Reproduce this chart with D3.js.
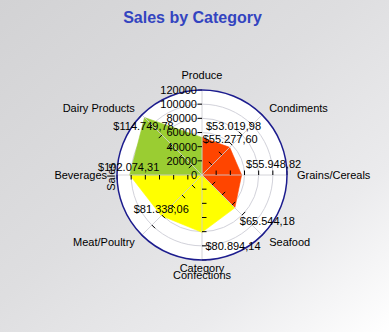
<!DOCTYPE html>
<html>
<head>
<meta charset="utf-8">
<script src="https://cdn.jsdelivr.net/npm/d3@7"></script>
<style>
html,body{margin:0;padding:0;overflow:hidden;}
svg{display:block;}
text{font-family:"Liberation Sans",Arial,sans-serif;}
</style>
</head>
<body>
<svg id="chart" width="389" height="332"></svg>
<script>
// ---- data ----
const categories = ["Produce","Condiments","Grains/Cereals","Seafood","Confections","Meat/Poultry","Beverages","Dairy Products"];
const sales = [53019.98, 55277.60, 55948.82, 65544.18, 80894.14, 81338.06, 102074.31, 114749.78];
const sectorColors = ["#FF4500","#FF4500","#FF4500","#FFFF00","#FFFF00","#FFFF00","#9ACD32","#9ACD32"];
const yTicks = [0, 20000, 40000, 60000, 80000, 100000, 120000];
const title = "Sales by Category";
const xTitle = "Category";
const yTitle = "Sales";

// ---- layout (styling, not data) ----
const W = 389, H = 332;
const cx = 202, cy = 175, R = 85;
const labelOffsets = [[31.5,-11.5],[0.5,-8.5],[32,-11],[32.5,13.5],[31,13.5],[0,-7],[-1,-8],[-1,9]];

const svg = d3.select("#chart");
const defs = svg.append("defs");
const bg = defs.append("linearGradient").attr("id","bg")
  .attr("x1","0").attr("y1","0").attr("x2","1").attr("y2","1");
bg.append("stop").attr("offset","0").attr("stop-color","#d2d2d4");
bg.append("stop").attr("offset","0.45").attr("stop-color","#dedee0");
bg.append("stop").attr("offset","0.75").attr("stop-color","#ebebed");
bg.append("stop").attr("offset","1").attr("stop-color","#ffffff");
svg.append("rect").attr("width",W).attr("height",H).attr("fill","url(#bg)");

const fmt = d3.formatLocale({decimal:",", thousands:".", grouping:[3], currency:["$",""]}).format("$,.2f");

const r = d3.scaleLinear().domain([0, 120000]).range([0, R]);
const a = d3.scaleBand().domain(categories).range([0, 2*Math.PI]).paddingInner(0).paddingOuter(0).align(0);
const px = (cat, v) => cx + r(v) * Math.sin(a(cat));
const py = (cat, v) => cy - r(v) * Math.cos(a(cat));

const g = svg.append("g");

// plot background circle
g.append("circle").attr("cx",cx).attr("cy",cy).attr("r",R).attr("fill","#ffffff");

// grid circles
g.selectAll(".grid").data(yTicks.filter(t => t > 0 && t < 120000)).enter()
  .append("circle").attr("cx",cx).attr("cy",cy).attr("r",d => r(d))
  .attr("fill","none").attr("stroke","#d2d2da").attr("stroke-width",1);

// sectors of the radar area
const pts = categories.map((c,i) => [px(c, sales[i]), py(c, sales[i])]);
const line = d3.line();
categories.forEach((c,i) => {
  const j = (i+1) % categories.length;
  g.append("path")
    .attr("d", line([[cx,cy], pts[i], pts[j]]) + "Z")
    .attr("fill", sectorColors[i]).attr("stroke", sectorColors[i]).attr("stroke-width",0.6)
    .attr("stroke-linejoin","round");
});

// spokes
g.selectAll(".spoke").data(categories).enter().append("line")
  .attr("x1",cx).attr("y1",cy)
  .attr("x2",d => px(d,120000)).attr("y2",d => py(d,120000))
  .attr("stroke","rgba(205,205,210,0.85)").attr("stroke-width",1);

// tick marks along each spoke (on counter-clockwise side)
categories.forEach(c => {
  const th = a(c);
  const ux = -Math.cos(th), uy = -Math.sin(th);
  yTicks.filter(t => t > 0).forEach(t => {
    const x0 = px(c,t), y0 = py(c,t);
    g.append("line").attr("x1",x0).attr("y1",y0)
      .attr("x2",x0 + 4.5*ux).attr("y2",y0 + 4.5*uy)
      .attr("stroke","#000").attr("stroke-width",1);
  });
});

// outer circle
g.append("circle").attr("cx",cx).attr("cy",cy).attr("r",R)
  .attr("fill","none").attr("stroke","#1c1c8e").attr("stroke-width",1.5);

// y tick labels
g.selectAll(".ytl").data(yTicks).enter().append("text")
  .attr("x", cx - 5).attr("y", d => py(categories[0], d))
  .attr("dy","0.35em").attr("text-anchor","end")
  .attr("font-size","11px").attr("fill","#000").text(d => d);

// category labels
categories.forEach(c => {
  const th = a(c);
  const s = Math.sin(th), co = Math.cos(th);
  const x = cx + (R + 10) * s, y = cy - (R + 10) * co;
  let anchor = Math.abs(s) < 0.01 ? "middle" : (s > 0 ? "start" : "end");
  let dy = "0.35em";
  if (Math.abs(s) < 0.01) dy = co > 0 ? "-0.05em" : "0.85em";
  g.append("text").attr("x",x).attr("y",y).attr("dy",dy)
    .attr("text-anchor",anchor).attr("font-size","11px").attr("fill","#000").text(c);
});

// data labels
categories.forEach((c,i) => {
  g.append("text")
    .attr("x", px(c, sales[i]) + labelOffsets[i][0])
    .attr("y", py(c, sales[i]) + labelOffsets[i][1])
    .attr("dy","0.35em").attr("text-anchor","middle")
    .attr("font-size","11px").attr("fill","#000").text(fmt(sales[i]));
});

// axis titles
svg.append("text").attr("x",cx).attr("y",268).attr("dy","0.35em")
  .attr("text-anchor","middle").attr("font-size","11px").attr("fill","#000").text(xTitle);
svg.append("text").attr("transform","translate(111,177) rotate(-90)").attr("dy","0.35em")
  .attr("text-anchor","middle").attr("font-size","11px").attr("fill","#000").text(yTitle);

// chart title
svg.append("text").attr("x",192.5).attr("y",17).attr("dy","0.35em")
  .attr("text-anchor","middle").attr("font-family","'DejaVu Sans',Verdana,sans-serif")
  .attr("font-weight","bold").attr("font-size","16px").attr("fill","#3344c0").text(title);
</script>
</body>
</html>
